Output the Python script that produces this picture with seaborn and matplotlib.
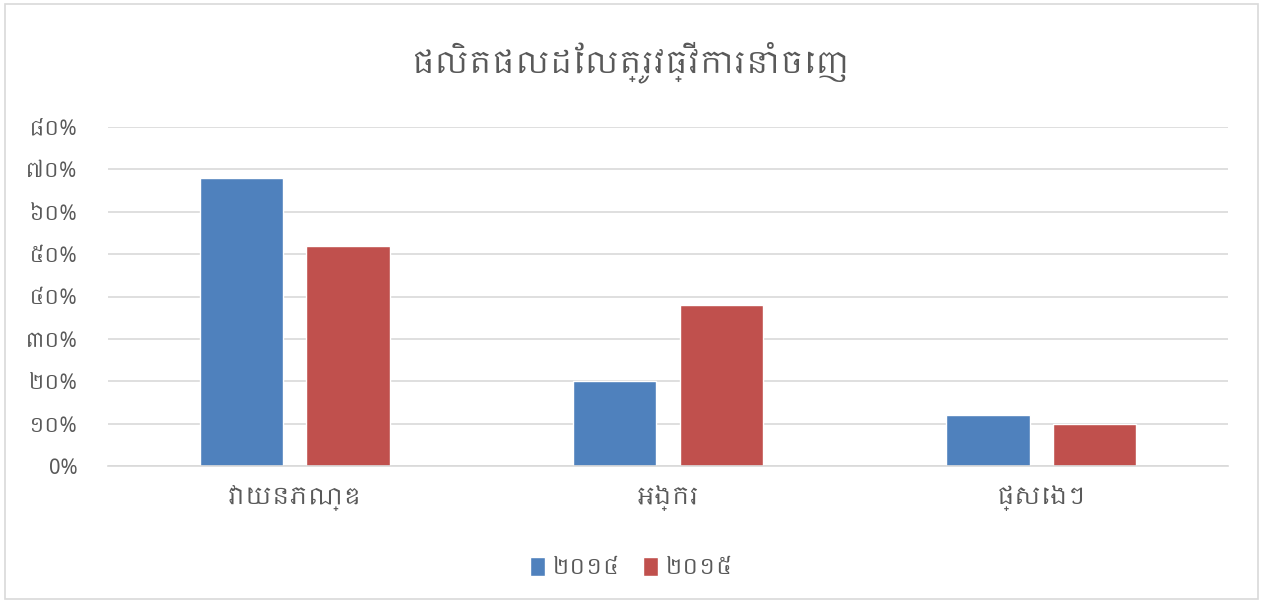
import pandas as pd
import numpy as np
import matplotlib
matplotlib.use('Agg')
import matplotlib.pyplot as plt
import seaborn as sb
from matplotlib import font_manager as fm
from matplotlib.ticker import FixedLocator, FixedFormatter

# data
products = ['វាយនភណ្ឌ', 'អង្ករ', 'ផ្សេងៗ']
years = ['២០១៤', '២០១៥']
share_2014 = [68, 20, 12]
share_2015 = [52, 38, 10]
y_ticks = [0, 10, 20, 30, 40, 50, 60, 70, 80]
y_labels = ['0%', '១០%', '២០%', '៣០%', '៤០%', '៥០%', '៦០%', '៧០%', '៨០%']
title = 'ផលិតផលដែលត្រូវធ្វើការនាំចេញ'

COLORS = ['#4F81BD', '#C0504D']
TEXT = '#595959'

sb.set_style('white')
# any installed font that has Khmer, then DejaVu
khmer = [f.name for f in fm.fontManager.ttflist if 'Khmer' in f.name]
plt.rcParams['font.family'] = list(dict.fromkeys(khmer)) + ['DejaVu Sans']

df = pd.DataFrame({
    'product': products * 2,
    'year': [years[0]] * 3 + [years[1]] * 3,
    'share': share_2014 + share_2015,
})

fig = plt.figure(figsize=(12.63, 6.01), dpi=100)
ax = fig.add_axes([108 / 1263, 1 - 466 / 601, 1120 / 1263, 339 / 601])

sb.barplot(data=df, x='product', y='share', hue='year', palette=COLORS,
           width=0.571, gap=0.22, ax=ax, saturation=1)

ax.set_ylim(0, 80)
ax.yaxis.set_major_locator(FixedLocator(y_ticks))
ax.yaxis.set_major_formatter(FixedFormatter(y_labels))
ax.grid(axis='y', color='#D9D9D9', linewidth=1.2)
ax.set_axisbelow(True)
for s in ['top', 'right', 'left']:
    ax.spines[s].set_visible(False)
ax.spines['bottom'].set_color('#D9D9D9')
ax.spines['bottom'].set_linewidth(1.2)
ax.tick_params(axis='y', length=0, pad=22, labelsize=15, labelcolor=TEXT)
ax.tick_params(axis='x', length=0, pad=14, labelsize=17, labelcolor=TEXT)
ax.set_xlabel('')
ax.set_ylabel('')

fig.text(0.5, 1 - 62 / 601, title, ha='center', va='center', fontsize=22, color=TEXT)

handles, labels = ax.get_legend_handles_labels()
ax.get_legend().remove()
fig.legend(handles, labels, loc='center', bbox_to_anchor=(0.5, 1 - 568 / 601),
           ncol=2, frameon=False, fontsize=16, labelcolor=TEXT,
           handlelength=0.7, handleheight=0.9, handletextpad=0.3, columnspacing=1.0)

# chart border
fig.patches.append(plt.Rectangle((0.004, 0.004), 0.992, 0.99, transform=fig.transFigure,
                                 fill=False, edgecolor='#D9D9D9', linewidth=1.2))

fig.savefig('out.png', dpi=100)
